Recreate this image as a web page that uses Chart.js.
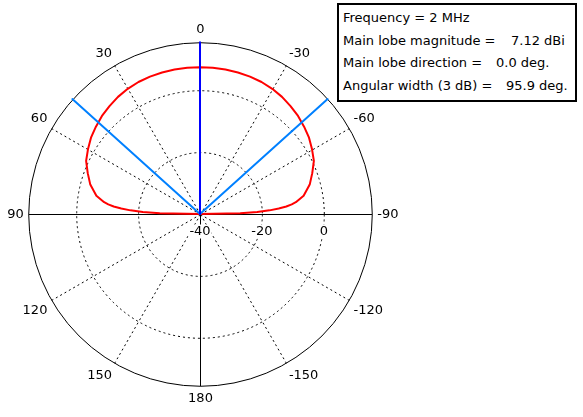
<!DOCTYPE html>
<html lang="en">

<head>
    <meta charset="UTF-8">
    <title>Radiation pattern</title>
    <script src="https://cdn.jsdelivr.net/npm/chart.js"></script>
    <style>
        html, body { margin: 0; padding: 0; background: #fff; }
        .grafico { position: relative; width: 583px; height: 417px; font-family: 'DejaVu Sans', sans-serif; color: #000; }
        .grafico canvas { position: absolute; left: 0; top: 0; }
        .infoBox {
            position: absolute; left: 337px; top: 3px; width: 240px; height: 99px;
            box-sizing: border-box; border: 2px solid #000; background: #fff;
            padding: 2px 0 0 4px; font-size: 13px; line-height: 22.5px;
        }
        .linha { position: relative; white-space: nowrap; height: 22.5px; }
        .valor { position: absolute; top: 0; }
    </style>
</head>

<body>
    <div class="grafico">
        <canvas id="diagrama" width="583" height="417"></canvas>
        <div class="infoBox">
            <div class="linha">Frequency = <span id="freq"></span> MHz</div>
            <div class="linha">Main lobe magnitude = <span class="valor" style="left:168px"><span id="mag"></span> dBi</span></div>
            <div class="linha">Main lobe direction = <span class="valor" style="left:153px"><span id="dir"></span> deg.</span></div>
            <div class="linha">Angular width (3 dB) = <span class="valor" style="left:163px"><span id="larg"></span> deg.</span></div>
        </div>
    </div>

<script>
    const frequencyMHz = 2
    const mainLobeMagnitude = 7.12
    const mainLobeDirection = 0.0
    const beamWidth3dB = 95.9

    const angleTicks = [0, 30, 60, 90, 120, 150, 180, -150, -120, -90, -60, -30]
    const radialTicks = [-40, -20, 0]
    const radialMin = -40
    const radialMax = 15.5

    // ganho (dBi) por angulo (graus), 0 = topo, positivo para a esquerda
    const patternAngles = [-90, -89, -88, -87, -86, -85, -84, -83, -80,
        -75, -70, -65, -60, -55, -50, -45, -40, -35, -30, -25, -20, -15, -10, -5,
        0,
        5, 10, 15, 20, 25, 30, 35, 40, 45, 50, 55, 60, 65, 70, 75,
        80, 83, 84, 85, 86, 87, 88, 89, 90]
    const patternGain = [-40, -27, -21.5, -17.5, -14.5, -12, -10.2, -8.8, -6.0,
        -3.3, -1.4, 0.6, 1.8, 3.0, 3.9, 4.8, 5.5, 6.2, 6.7, 7.05, 7.25, 7.35, 7.4, 7.4,
        7.4,
        7.4, 7.4, 7.35, 7.25, 7.05, 6.7, 6.2, 5.5, 4.8, 3.9, 3.0, 1.8, 0.6, -1.4, -3.3,
        -6.0, -8.8, -10.2, -12, -14.5, -17.5, -21.5, -27, -40]

    freq.innerHTML = frequencyMHz
    mag.innerHTML = mainLobeMagnitude.toFixed(2)
    dir.innerHTML = mainLobeDirection.toFixed(1)
    larg.innerHTML = beamWidth3dB.toFixed(1)

    // radar: 1 rotulo por grau, sentido horario a partir do topo
    const passos = 360
    function indiceAngulo(a) {
        return ((Math.round(-a) % passos) + passos) % passos
    }
    function anguloIndice(i) {
        let a = -i
        if (a <= -180) a += 360
        return a
    }

    var rotulos = []
    for (let i = 0; i < passos; i++) {
        const a = anguloIndice(i)
        rotulos.push(angleTicks.includes(a) ? String(a) : '')
    }

    var ganho = new Array(passos).fill(null)
    patternAngles.forEach((a, k) => { ganho[indiceAngulo(a)] = patternGain[k] })

    function raio(angulo) {
        const d = new Array(passos).fill(null)
        d[indiceAngulo(angulo)] = radialMax
        d[indiceAngulo(angulo + 180)] = radialMin
        return d
    }

    // grade deslocada meio pixel (linhas de 1px nitidas) + rotulos do raio
    const ajustes = {
        id: 'ajustes',
        beforeDraw(chart) {
            chart.ctx.save()
            chart.ctx.translate(0.5, 0.5)
        },
        beforeDatasetsDraw(chart) {
            const escala = chart.scales.r
            const ctx = chart.ctx
            ctx.restore()
            ctx.save()
            ctx.font = '13px "DejaVu Sans"'
            ctx.textAlign = 'center'
            ctx.textBaseline = 'middle'
            radialTicks.forEach(v => {
                const x = escala.xCenter + escala.getDistanceFromCenterForValue(v)
                const y = escala.yCenter + 17.5
                const w = ctx.measureText(String(v)).width
                ctx.fillStyle = '#fff'
                ctx.fillRect(x - w / 2 - 1, y - 7, w + 2, 14)
                ctx.fillStyle = '#000'
                ctx.fillText(String(v), x, y)
            })
            ctx.restore()
        }
    }

    const linha = { fill: false, pointRadius: 0, spanGaps: true, tension: 0, borderJoinStyle: 'round' }

    new Chart(document.getElementById('diagrama'), {
        type: 'radar',
        data: {
            labels: rotulos,
            datasets: [
                Object.assign({ data: raio(mainLobeDirection), borderColor: '#0000ff', borderWidth: 2 }, linha),
                Object.assign({ data: raio(mainLobeDirection - beamWidth3dB / 2), borderColor: '#0080ff', borderWidth: 2 }, linha),
                Object.assign({ data: raio(mainLobeDirection + beamWidth3dB / 2), borderColor: '#0080ff', borderWidth: 2 }, linha),
                Object.assign({ data: ganho, borderColor: '#ff0000', borderWidth: 2 }, linha)
            ]
        },
        options: {
            responsive: false,
            animation: false,
            layout: { padding: { left: 5, top: 16.5, right: 182, bottom: 4.5 } },
            plugins: { legend: { display: false }, tooltip: { enabled: false } },
            scales: {
                r: {
                    min: radialMin,
                    max: radialMax,
                    ticks: { display: false, stepSize: 20 },
                    grid: { circular: true, color: '#000', lineWidth: 1 },
                    border: { dash: (c) => (c.tick && c.tick.value === radialMax) ? [] : [2, 3] },
                    angleLines: {
                        color: '#000',
                        lineWidth: (c) => c.index % 30 === 0 ? 1 : 0,
                        borderDash: (c) => c.index % 90 === 0 ? [] : [2, 3]
                    },
                    pointLabels: { font: { family: 'DejaVu Sans', size: 13 }, color: '#000', padding: 5 }
                }
            }
        },
        plugins: [ajustes]
    })
</script>
</body>

</html>
